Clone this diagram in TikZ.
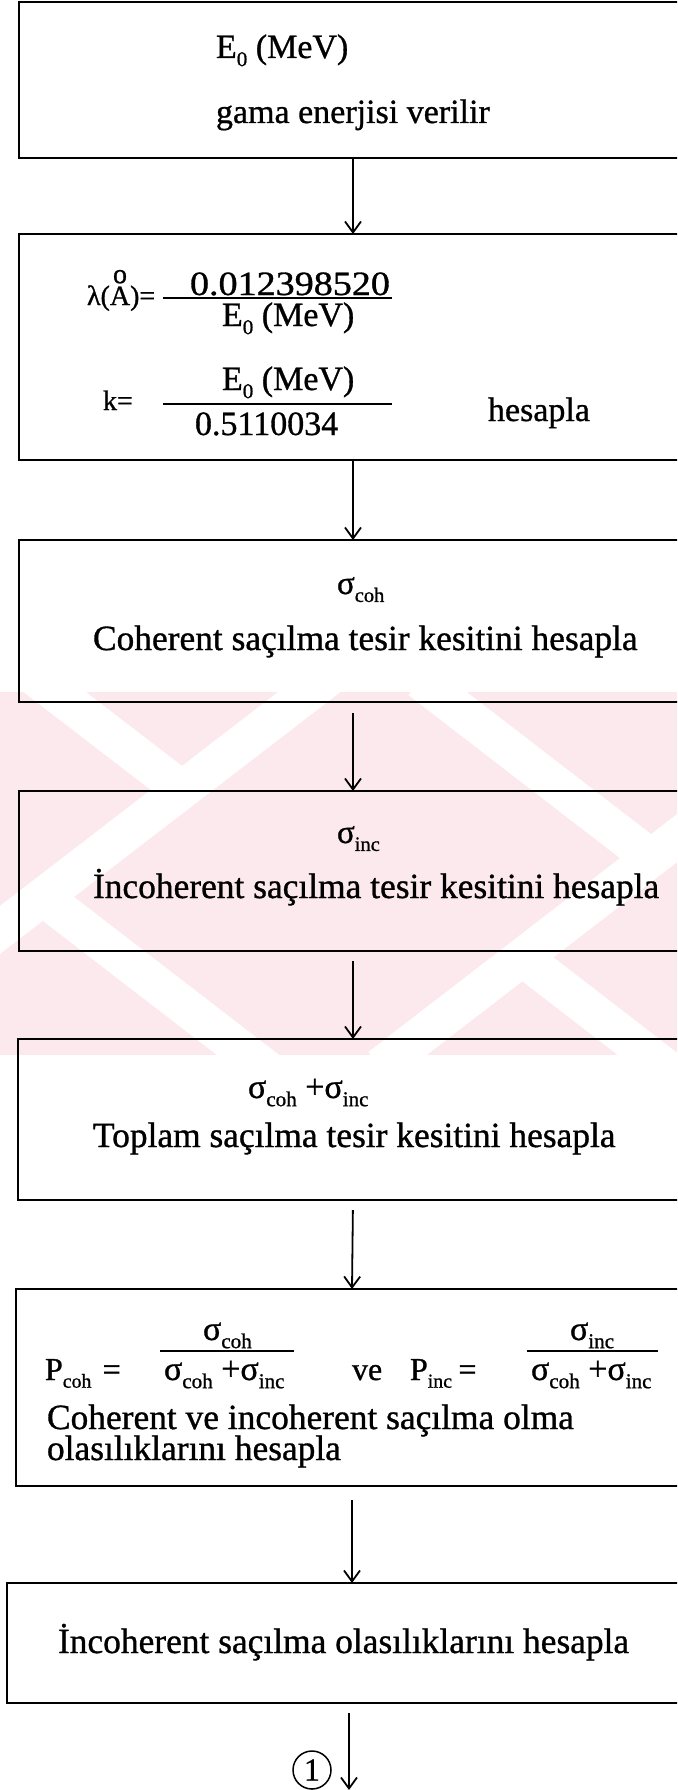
\documentclass[tikz,border=0pt]{standalone}
\usepackage{fontspec}
\setmainfont{Liberation Serif}[FakeBold=0.9]
\usepackage{graphicx}
\usetikzlibrary{arrows.meta}
\definecolor{wmpink}{RGB}{252,233,238}
\newcommand\fsz[1]{\fontsize{#1}{#1}\selectfont}
\newcommand\subx[1]{\raisebox{-0.24em}{\scalebox{0.62}{#1}}}
\newcommand\sig[1]{σ\subx{#1}}
\newcommand\ringA{\ooalign{A\cr\hidewidth\raisebox{0.78em}{o}\hidewidth\cr}}
\begin{document}
\begin{tikzpicture}[x=1pt,y=-1pt,
  box/.style={draw=black, line width=1.9pt, inner sep=0pt, outer sep=0pt},
  txt/.style={anchor=base west, inner sep=0pt, outer sep=0pt},
  flow/.style={draw=black, line width=1.8pt, -{Straight Barb[length=11pt,width=16pt,line width=1.8pt]}},
  fracbar/.style={line width=1.5pt},
  band/.style={white, line width=38pt}]
\useasboundingbox (0,0) rectangle (677,1790);
\clip (0,0) rectangle (677,1790);
\fill[white] (0,0) rectangle (677,1790);
% watermark
\fill[wmpink] (0,692) rectangle (677,1055);
\begin{scope}
\clip (0,692) rectangle (677,1055);
\draw[band] (-60,976) -- (360,653);
\draw[band] (0,650) -- (173,783);
\draw[band] (43,897) -- (300,1095);
\draw[band] (380,1067) -- (720,805);
\draw[band] (420,680) -- (651,858);
\draw[band] (522,957) -- (680,1079);
\end{scope}
% boxes
\node[box, anchor=north west, minimum width=668pt, minimum height=156pt] (b1) at (19,2) {};
\node[box, anchor=north west, minimum width=668pt, minimum height=226pt] (b2) at (19,234) {};
\node[box, anchor=north west, minimum width=668pt, minimum height=162pt] (b3) at (19,540) {};
\node[box, anchor=north west, minimum width=668pt, minimum height=160pt] (b4) at (19,791) {};
\node[box, anchor=north west, minimum width=670pt, minimum height=161pt] (b5) at (18,1039) {};
\node[box, anchor=north west, minimum width=672pt, minimum height=197pt] (b6) at (16,1289) {};
\node[box, anchor=north west, minimum width=686pt, minimum height=120pt] (b7) at (7,1583) {};
% box 1
\node[txt, font=\fsz{34}] (e0) at (216,58) {E\subx{0} (MeV)};
\node[txt, font=\fsz{34}] (gama) at (216,123) {gama enerjisi verilir};
% box 2
\node[txt, font=\fsz{28}] (lam) at (87,305) {λ(\ringA)=};
\draw[fracbar] (163,298) -- (392,298);
\node[txt, font=\fsz{34}] (num1) at (190,295) {\scalebox{1.12}[1]{0.012398520}};
\node[txt, font=\fsz{34}] (den1) at (222,326) {E\subx{0} (MeV)};
\node[txt, font=\fsz{28}] (kk) at (103,410) {k=};
\node[txt, font=\fsz{34}] (num2) at (222,390) {E\subx{0} (MeV)};
\draw[fracbar] (163,404) -- (392,404);
\node[txt, font=\fsz{34}] (den2) at (195,435) {0.5110034};
\node[txt, font=\fsz{34}] (hes) at (488,421) {hesapla};
% box 3
\node[txt, font=\fsz{33}] (s3) at (337,594) {\sig{coh}};
\node[txt, font=\fsz{35.4}] (t3) at (93,650) {Coherent saçılma tesir kesitini hesapla};
% box 4
\node[txt, font=\fsz{33}] (s4) at (337,843) {\sig{inc}};
\node[txt, font=\fsz{35.4}] (t4) at (93,898) {İncoherent saçılma tesir kesitini hesapla};
% box 5
\node[txt, font=\fsz{34}] (s5) at (248,1098) {\sig{coh} +\sig{inc}};
\node[txt, font=\fsz{35.4}] (t5) at (93,1147) {Toplam saçılma tesir kesitini hesapla};
% box 6
\node[txt, font=\fsz{32}] (pc) at (45,1380) {P\subx{coh}\hspace{0.35em}=};
\node[txt, font=\fsz{34}] (pcn) at (203,1340) {\sig{coh}};
\draw[fracbar] (160,1351) -- (294,1351);
\node[txt, font=\fsz{34}] (pcd) at (164,1380) {\sig{coh} +\sig{inc}};
\node[txt, font=\fsz{32}] (ve) at (352,1380) {ve};
\node[txt, font=\fsz{32}] (pi) at (410,1380) {P\subx{inc}\hspace{0.2em}=};
\node[txt, font=\fsz{34}] (pin) at (570,1340) {\sig{inc}};
\draw[fracbar] (527,1351) -- (658,1351);
\node[txt, font=\fsz{34}] (pid) at (531,1380) {\sig{coh} +\sig{inc}};
\node[txt, font=\fsz{35.4}] (t6a) at (47,1429) {Coherent ve incoherent saçılma olma};
\node[txt, font=\fsz{35.4}] (t6b) at (47,1460) {olasılıklarını hesapla};
% box 7
\node[txt, font=\fsz{35.4}] (t7) at (58,1653) {İncoherent saçılma olasılıklarını hesapla};
% connector label
\node[draw, circle, line width=1.5pt, minimum size=38pt, inner sep=0pt, font=\fsz{32}] (c1) at (312,1770) {1};
% arrows
\coordinate (endp) at (349,1790);
\draw[flow] (b1.south) -- (b2.north);
\draw[flow] (b2.south) -- (b3.north);
\draw[flow, shorten <=11pt] (b3.south) -- (b4.north);
\draw[flow, shorten <=10pt] (b4.south) -- (b5.north);
\draw[flow, shorten <=10pt] (b5.south) -- (b6.north);
\draw[flow, shorten <=14pt] (b6.south) -- (b6.south |- b7.north);
\draw[flow, shorten <=10pt] (b7.south -| endp) -- (endp);
\end{tikzpicture}
\end{document}
